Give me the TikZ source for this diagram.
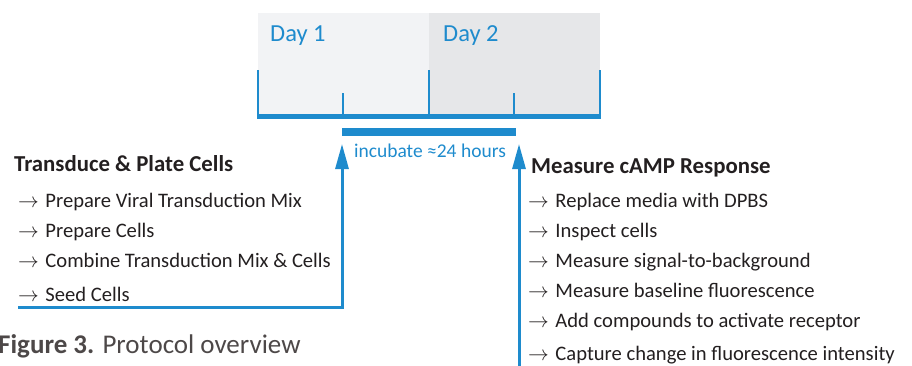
\documentclass[tikz,border=0pt]{standalone}
\usepackage{fontspec}
\setmainfont{Carlito}
\usepackage{tikz}
\usetikzlibrary{arrows.meta}

\definecolor{protblue}{HTML}{1E8BCD}
\definecolor{dayone}{HTML}{F2F3F5}
\definecolor{daytwo}{HTML}{E6E7E9}
\definecolor{captiongray}{HTML}{4D4848}
\definecolor{stepblack}{HTML}{231F20}

\newcommand{\stepfont}{\fontsize{20.6}{24}\selectfont}
\newcommand{\headfont}{\fontsize{22.8}{27}\selectfont\bfseries}
\newcommand{\bul}{$\rightarrow$\hspace{6.5pt}}

\begin{document}
\begin{tikzpicture}[x=1pt,y=-1pt]
\tikzset{daylabel/.style={anchor=base west,inner sep=0pt,text=protblue,font=\fontsize{24.5}{28}\selectfont}}
\tikzset{heading/.style={anchor=base west,inner sep=0pt,text=stepblack,font=\headfont}}
\tikzset{stepitem/.style={anchor=base west,inner sep=0pt,text=stepblack,font=\stepfont}}
\tikzset{tick/.style={protblue,line width=1.6pt}}
\tikzset{flow/.style={protblue,line width=3pt,-{Triangle[length=25pt,width=13pt]}}}
\useasboundingbox (0,0) rectangle (912,365);
% timeline
\fill[dayone] (258,13) rectangle (429,116);
\fill[daytwo] (429,13) rectangle (600,116);
\node[daylabel] (day1) at (270,41.5) {Day 1};
\node[daylabel] (day2) at (443,41.5) {Day 2};
\foreach \x in {258,429,600}
  \draw[tick] (\x,70) -- (\x,116);
\foreach \x in {343,514}
  \draw[tick] (\x,93) -- (\x,116);
\draw[protblue,line width=4.5pt] (257,116.5) -- (601,116.5);
\draw[protblue,line width=8pt] (342,131.5) -- (516,131.5);
\node[anchor=base,inner sep=0pt,text=protblue,font=\fontsize{19.5}{23}\selectfont] (incubate) at (430,157) {incubate ≈24 hours};
% day 1 steps
\node[heading] (transduce) at (14,171) {Transduce \& Plate Cells};
\node[stepitem] (viral) at (18,207) {\bul Prepare Viral Transduction Mix};
\node[stepitem] (prep) at (18,237) {\bul Prepare Cells};
\node[stepitem] (combine) at (18,267) {\bul Combine Transduction Mix \& Cells};
\node[stepitem] (seed) at (18,301) {\bul Seed Cells};
% day 2 steps
\node[heading] (measure) at (531,173) {Measure cAMP Response};
\node[stepitem] (replace) at (528,207) {\bul Replace media with DPBS};
\node[stepitem] (inspect) at (528,237) {\bul Inspect cells};
\node[stepitem] (signal) at (528,267) {\bul Measure signal-to-background};
\node[stepitem] (baseline) at (528,297) {\bul Measure baseline fluorescence};
\node[stepitem] (compounds) at (528,327) {\bul Add compounds to activate receptor};
\node[stepitem] (capture) at (528,360) {\bul Capture change in fluorescence intensity};
% flow arrows
\coordinate (seedend) at (18,307.5);
\coordinate (leftup) at (342,144);
\coordinate (rightlow) at (519,366);
\coordinate (rightup) at (519,144);
\draw[flow] (seedend) -| (leftup);
\draw[flow] (rightlow) -- (rightup);
% caption
\node[anchor=base west,inner sep=0pt,text=captiongray,font=\fontsize{27}{31}\selectfont] (caption) at (-2,353) {\textbf{Figure 3.} Protocol overview};
\end{tikzpicture}
\end{document}
